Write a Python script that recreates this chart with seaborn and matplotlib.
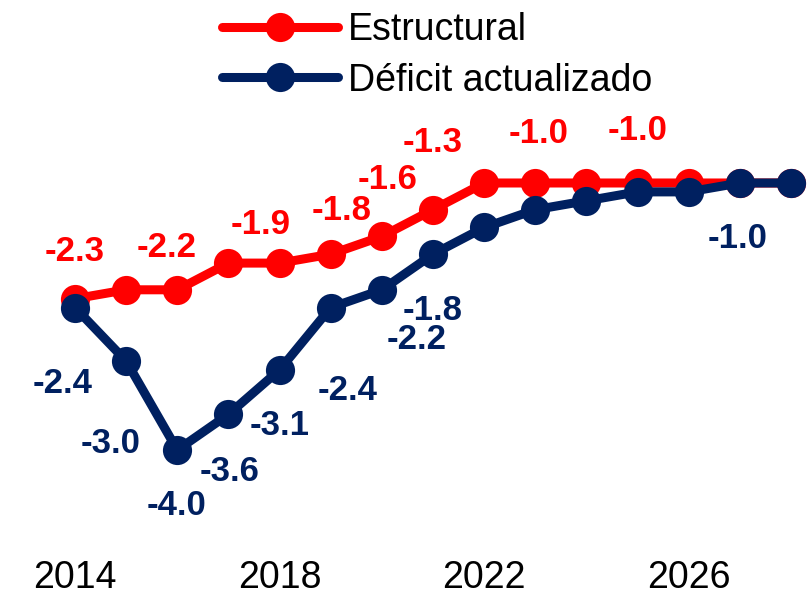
import numpy as np
import pandas as pd
import matplotlib
matplotlib.use('Agg')
import matplotlib.pyplot as plt
import seaborn as sns

# --- DATA ---
years = list(range(2014, 2029))
estructural = [-2.3, -2.2, -2.2, -1.9, -1.9, -1.8, -1.6, -1.3, -1.0, -1.0, -1.0, -1.0, -1.0, -1.0, -1.0]
deficit = [-2.4, -3.0, -4.0, -3.6, -3.1, -2.4, -2.2, -1.8, -1.5, -1.3, -1.2, -1.1, -1.1, -1.0, -1.0]
series_names = ['Estructural', 'Déficit actualizado']
tick_years = [2014, 2018, 2022, 2026]

# years that carry a value label
red_label_years = [2014, 2016, 2018, 2019, 2020, 2021, 2023, 2025]
blue_label_years = [2014, 2015, 2016, 2017, 2018, 2019, 2020, 2021, 2027]

# --- STYLE ---
sns.set_style('white')
plt.rcParams['font.family'] = ['Liberation Sans', 'DejaVu Sans']
plt.rcParams['text.color'] = 'black'
plt.rcParams['xtick.color'] = 'black'

red = '#FF0000'
navy = '#002060'

df = pd.DataFrame({'year': years * 2,
                   'value': estructural + deficit,
                   'serie': [series_names[0]] * len(years) + [series_names[1]] * len(years)})

fig = plt.figure(figsize=(8.07, 5.99), dpi=100)
ax = fig.add_axes([0, 0.0651, 1, 0.9349])

sns.lineplot(data=df, x='year', y='value', hue='serie', palette=[red, navy],
             marker='o', markersize=21, markeredgewidth=0, linewidth=6.5,
             ax=ax, legend=False)

ax.set_xlim(2012.533, 2028.314)
ax.set_ylim(-5.236, 1.056)
ax.set_xticks(tick_years)
ax.set_xticklabels([str(y) for y in tick_years])
ax.tick_params(axis='x', length=0, pad=0, labelsize=27, labelcolor='black')
ax.set_yticks([])
ax.set_xlabel('')
ax.set_ylabel('')
for s in ax.spines.values():
    s.set_visible(False)

# value labels (pixel offsets from each point)
red_offsets = {2014: (0, -47), 2016: (-11, -42), 2018: (-19, -39), 2019: (11, -44),
               2020: (6, -57), 2021: (0, -67), 2023: (3, -49), 2025: (0, -52)}
blue_offsets = {2014: (-12, 76), 2015: (-16, 83), 2016: (-1, 56), 2017: (1, 57),
                2018: (0, 56), 2019: (17, 83), 2020: (35, 50), 2021: (0, 56), 2027: (-2, 56)}

for yr in red_label_years:
    v = estructural[years.index(yr)]
    dx, dy = red_offsets[yr]
    ax.annotate(f'{v:.1f}', (yr, v), xytext=(dx, -dy), textcoords='offset pixels',
                ha='center', va='center', color=red, fontsize=25, fontweight='bold')
for yr in blue_label_years:
    v = deficit[years.index(yr)]
    dx, dy = blue_offsets[yr]
    ax.annotate(f'{v:.1f}', (yr, v), xytext=(dx, -dy), textcoords='offset pixels',
                ha='center', va='center', color=navy, fontsize=25, fontweight='bold')

# legend
handles = [plt.Line2D([], [], color=c, linewidth=6.5, marker='o', markersize=21,
                      markeredgewidth=0) for c in [red, navy]]
fig.legend(handles, series_names, loc='upper left', bbox_to_anchor=(0.275, 0.98),
           frameon=False, fontsize=27, handlelength=3.1, handletextpad=0.25,
           labelspacing=0.39, borderpad=0, borderaxespad=0, labelcolor='black')

fig.savefig('out.png', dpi=100)
